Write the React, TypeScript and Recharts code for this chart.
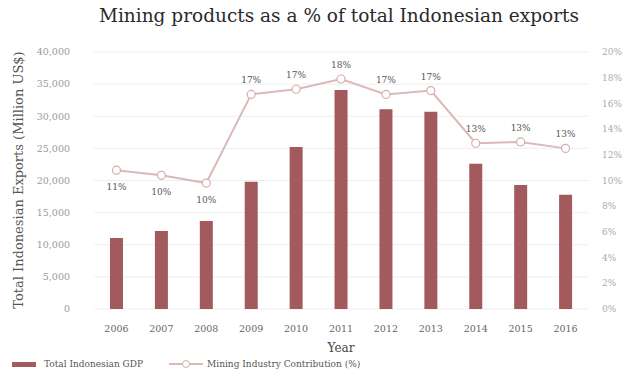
import { ComposedChart, Bar, Line, XAxis, YAxis, CartesianGrid, LabelList } from 'recharts';

const years = ['2006', '2007', '2008', '2009', '2010', '2011', '2012', '2013', '2014', '2015', '2016'];
const exportsMillion = [11050, 12150, 13700, 19800, 25200, 34100, 31100, 30700, 22600, 19300, 17800];
const miningPct = [10.8, 10.4, 9.8, 16.7, 17.1, 17.9, 16.7, 17.0, 12.9, 13.0, 12.5];
const pctLabels = ['11%', '10%', '10%', '17%', '17%', '18%', '17%', '17%', '13%', '13%', '13%'];
const leftTicks = [0, 5000, 10000, 15000, 20000, 25000, 30000, 35000, 40000];
const rightTicks = [0, 2, 4, 6, 8, 10, 12, 14, 16, 18, 20];

const data = years.map((y, i) => ({
  year: y,
  exports: exportsMillion[i],
  pct: miningPct[i],
  label: pctLabels[i],
}));

const font = '"DejaVu Serif", serif';
const barColor = '#a35a5c';
const lineColor = '#dcb9b9';

const renderPctLabel = (props: any) => {
  const { x, y, index } = props;
  const below = index < 3;
  return (
    <text
      x={x}
      y={below ? y + 20 : y - 11}
      textAnchor="middle"
      fontSize={9}
      fontFamily={font}
      fill="#555"
    >
      {pctLabels[index]}
    </text>
  );
};

export default function App() {
  return (
    <div style={{ position: 'absolute', left: 0, top: 0, width: 628, height: 373, background: '#fff', fontFamily: font }}>
      <div style={{ position: 'absolute', left: 50, width: 578, top: 5, textAlign: 'center', fontSize: 18.5, color: '#2a2a2a' }}>
        Mining products as a % of total Indonesian exports
      </div>
      <div
        style={{
          position: 'absolute',
          left: 18,
          top: 180,
          transform: 'translate(-50%, -50%) rotate(-90deg)',
          whiteSpace: 'nowrap',
          fontSize: 13,
          color: '#555',
        }}
      >
        Total Indonesian Exports (Million US$)
      </div>
      <ComposedChart
        width={628}
        height={373}
        data={data}
        margin={{ top: 52, right: 0, bottom: 39, left: 34 }}
      >
        <CartesianGrid vertical={false} stroke="#f0eded" yAxisId="left" />
        <XAxis
          dataKey="year"
          height={25}
          axisLine={false}
          tickLine={false}
          tickMargin={10}
          tick={{ fontSize: 9.5, fontFamily: font, fill: '#666' }}
          label={{ value: 'Year', position: 'insideBottom', offset: -18, fontSize: 12, fontFamily: font, fill: '#444' }}
        />
        <YAxis
          yAxisId="left"
          width={60}
          domain={[0, 40000]}
          ticks={leftTicks}
          axisLine={false}
          tickLine={false}
          tickMargin={18}
          tickFormatter={(v: number) => v.toLocaleString('en-US')}
          tick={{ fontSize: 9.5, fontFamily: font, fill: '#999' }}
        />
        <YAxis
          yAxisId="right"
          orientation="right"
          width={40}
          domain={[0, 20]}
          ticks={rightTicks}
          axisLine={false}
          tickLine={false}
          tickMargin={8}
          tickFormatter={(v: number) => `${v}%`}
          tick={{ fontSize: 9, fontFamily: font, fill: '#aaa', textAnchor: 'start' }}
        />
        <Bar yAxisId="left" dataKey="exports" fill={barColor} barSize={13} isAnimationActive={false} />
        <Line
          yAxisId="right"
          dataKey="pct"
          stroke={lineColor}
          strokeWidth={2}
          dot={{ r: 4, fill: '#fff', stroke: '#d4aeae', strokeWidth: 1.2 }}
          isAnimationActive={false}
        >
          <LabelList dataKey="label" content={renderPctLabel} />
        </Line>
      </ComposedChart>
      <div style={{ position: 'absolute', top: 359, left: 12, display: 'flex', alignItems: 'center', fontSize: 9, color: '#555', whiteSpace: 'nowrap' }}>
        <span style={{ display: 'inline-block', width: 24, height: 5, background: barColor, marginRight: 8 }} />
        <span style={{ marginRight: 26 }}>Total Indonesian GDP</span>
        <svg width={34} height={10} style={{ marginRight: 4 }}>
          <line x1={0} y1={5} x2={34} y2={5} stroke={lineColor} strokeWidth={2} />
          <circle cx={17} cy={5} r={3.5} fill="#fff" stroke="#d4aeae" />
        </svg>
        <span>Mining Industry Contribution (%)</span>
      </div>
    </div>
  );
}
